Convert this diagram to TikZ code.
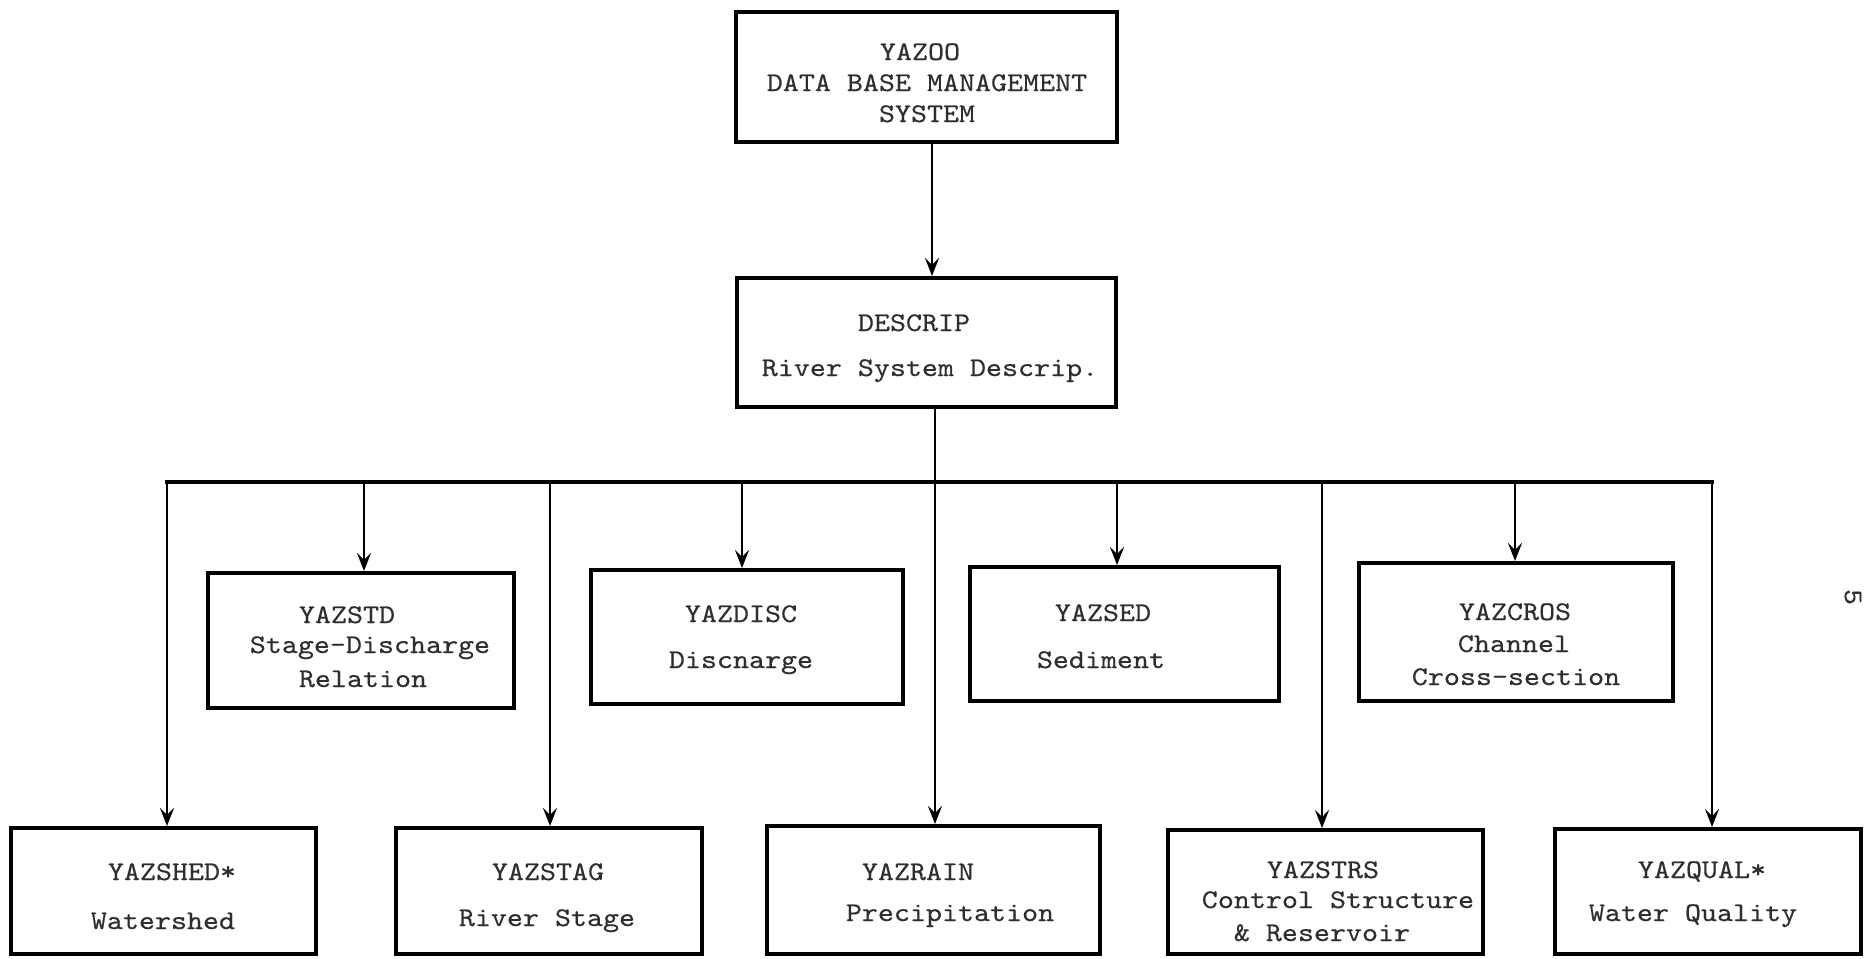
\documentclass[tikz,border=0pt]{standalone}
\usepackage{fontspec}
\usetikzlibrary{arrows.meta,fit}
\newfontfamily\typer[FakeStretch=1.13,FakeBold=0.4]{lmmono10-regular.otf}
\begin{document}
\begin{tikzpicture}[x=0.5pt,y=-0.5pt,
  box/.style={draw=black, line width=2pt, inner sep=0pt, fit={#1}},
  txt/.style={anchor=base, inner sep=0pt, text=black!82,
    font=\typer\fontsize{13.5}{16}\selectfont},
  link/.style={draw=black, line width=1.4pt},
  arr/.style={link, -{Stealth[length=9pt,width=7pt,inset=3.5pt]}},
  busline/.style={draw=black, line width=1.8pt, line cap=rect}]
\useasboundingbox (0,0) rectangle (1871,958);

% boxes
\node[box={(736,12) (1117,142)}]   (top)     {};
\node[box={(737,278) (1116,407)}]  (descrip) {};
\node[box={(208,573) (514,708)}]   (std)     {};
\node[box={(591,570) (903,704)}]   (disc)    {};
\node[box={(970,567) (1279,701)}]  (sed)     {};
\node[box={(1359,563) (1673,701)}] (cros)    {};
\node[box={(11,828) (316,954)}]    (shed)    {};
\node[box={(396,828) (702,954)}]   (stag)    {};
\node[box={(767,826) (1100,954)}]  (rain)    {};
\node[box={(1168,830) (1483,954)}] (strs)    {};
\node[box={(1555,829) (1861,954)}] (qual)    {};

% box texts
\node[txt] (topA) at (920,60)  {YAZOO};
\node[txt] (topB) at (927,91)  {DATA BASE MANAGEMENT};
\node[txt] (topC) at (927,122) {SYSTEM};

\node[txt] (descA) at (914,331) {DESCRIP};
\node[txt] (descB) at (930,376) {River System Descrip.};

\node[txt] (stdA) at (347,623) {YAZSTD};
\node[txt] (stdB) at (370,653) {Stage-Discharge};
\node[txt] (stdC) at (363,687) {Relation};

\node[txt] (discA) at (741,622) {YAZDISC};
\node[txt] (discB) at (741,668) {Discnarge};

\node[txt] (sedA) at (1103,621) {YAZSED};
\node[txt] (sedB) at (1101,668) {Sediment};

\node[txt] (crosA) at (1515,620) {YAZCROS};
\node[txt] (crosB) at (1514,652) {Channel};
\node[txt] (crosC) at (1516,685) {Cross-section};

\node[txt] (shedA) at (172,880) {YAZSHED*};
\node[txt] (shedB) at (163,929) {Watershed};

\node[txt] (stagA) at (548,880) {YAZSTAG};
\node[txt] (stagB) at (547,926) {River Stage};

\node[txt] (rainA) at (918,880) {YAZRAIN};
\node[txt] (rainB) at (950,921) {Precipitation};

\node[txt] (strsA) at (1323,878) {YAZSTRS};
\node[txt] (strsB) at (1338,908) {Control Structure};
\node[txt] (strsC) at (1322,941) {\& Reservoir};

\node[txt] (qualA) at (1702,878) {YAZQUAL*};
\node[txt] (qualB) at (1693,921) {Water Quality};

% page number
\node[txt, anchor=center, rotate=-90] (pageno) at (1853,597) {5};

% junction points on the distribution bus
\coordinate (jTop) at (932,0);
\coordinate (busL) at (167,482);
\coordinate (busR) at (1712,482);
\coordinate (dStd)  at (364,482);
\coordinate (dStag) at (550,482);
\coordinate (dDisc) at (742,482);
\coordinate (dRain) at (935,482);
\coordinate (dSed)  at (1117,482);
\coordinate (dStrs) at (1322,482);
\coordinate (dCros) at (1515,482);

% connectors
\draw[arr] (top.south -| jTop) -- (descrip.north -| jTop);
\draw[busline] (busL) -- (busR);
\draw[arr] (descrip.south -| dRain) -- (rain.north -| dRain);
\draw[arr] (busL)  -- (shed.north -| busL);
\draw[arr] (dStd)  -- (std.north -| dStd);
\draw[arr] (dStag) -- (stag.north -| dStag);
\draw[arr] (dDisc) -- (disc.north -| dDisc);
\draw[arr] (dSed)  -- (sed.north -| dSed);
\draw[arr] (dStrs) -- (strs.north -| dStrs);
\draw[arr] (dCros) -- (cros.north -| dCros);
\draw[arr] (busR)  -- (qual.north -| busR);
\end{tikzpicture}
\end{document}
